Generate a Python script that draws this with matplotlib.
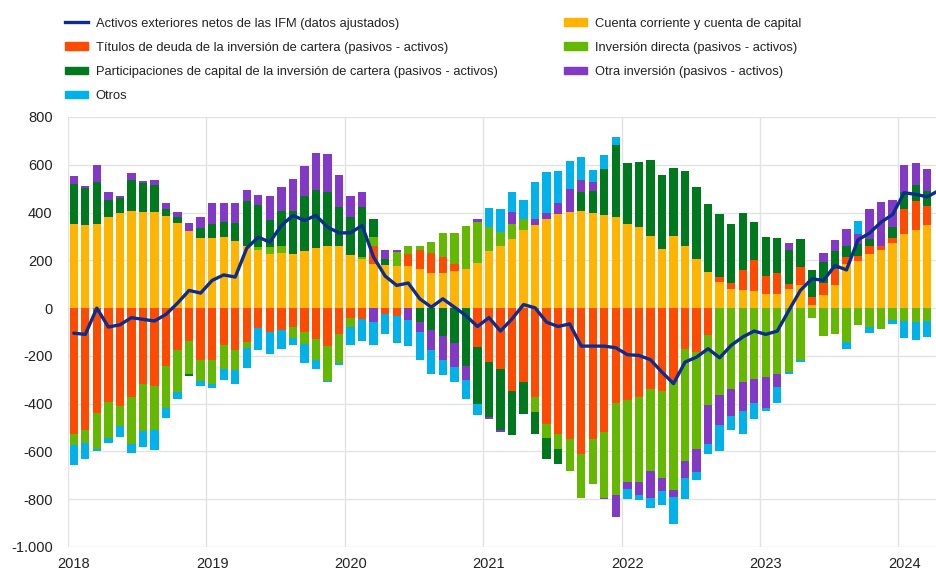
import numpy as np
import matplotlib
matplotlib.use('Agg')
import matplotlib.pyplot as plt
from matplotlib.lines import Line2D
from matplotlib.patches import Patch
from matplotlib.ticker import FixedLocator, FuncFormatter

plt.rcParams['font.family'] = ['Liberation Sans', 'DejaVu Sans']

# monthly values, Jan 2018 - Mar 2024 (EUR bn)
cuenta_corriente = [353, 350, 353, 383, 400, 408, 404, 401, 386, 355, 322, 293,
                    293, 297, 283, 258, 244, 227, 230, 227, 238, 252, 258, 258,
                    223, 206, 185, 181, 178, 178, 164, 146, 146, 155, 164, 190,
                    237, 262, 290, 325, 346, 374, 392, 401, 408, 397, 388, 381,
                    353, 339, 300, 248, 300, 258, 206, 151, 109, 81, 77, 70,
                    57, 57, 78, 95, 15, 54, 98, 183, 199, 227, 244, 272,
                    311, 328, 350]
titulos_deuda = [-525, -509, -439, -393, -411, -372, -316, -328, -244, -177, -138, -219,
                 -219, -156, -174, -142, -84, -98, -93, -79, -100, -131, -160, -110,
                 -40, -45, 73, -24, -31, 49, 80, 84, 67, 28, 0, -163,
                 -226, -254, -349, -310, -372, -484, -526, -546, -609, -546, -519, -397,
                 -383, -372, -337, -347, -309, -170, -184, -114, 21, 24, 81, 132,
                 77, 89, 24, 77, 31, 50, 67, 31, 21, 31, 18, 22,
                 105, 120, 79]
inversion_directa = [-49, -56, -149, -151, -84, -195, -200, -181, -174, -174, -137, -86,
                     -100, -98, -87, -24, 11, 28, 32, -46, -49, -88, -145, -119,
                     -37, 8, 39, 0, 56, 35, 18, 46, 102, 132, 179, 170,
                     102, 56, 63, 49, -63, -58, -62, -136, -184, -191, -274, -386,
                     -345, -356, -346, -363, -451, -470, -404, -293, -365, -337, -309, -296,
                     -289, -275, -268, -216, -40, -118, -110, -142, -72, -77, -86, -49,
                     -54, -59, -54]
participaciones = [167, 153, 174, 70, 61, 129, 119, 116, 28, 28, -9, 42,
                   60, 63, 74, 189, 177, 114, 146, 181, 233, 244, 230, 167,
                   160, 208, 78, 25, 0, 0, -59, -93, -117, -145, -244, -237,
                   -230, -258, -184, -132, -93, -88, -66, 0, 79, 95, 195, 300,
                   253, 272, 320, 311, 287, 318, 300, 285, 262, 248, 241, 160,
                   164, 148, 142, 118, 112, 88, 74, 45, 49, 32, 0, 45,
                   70, 66, 60]
otra_inversion = [31, 10, 73, 32, 7, 28, 8, 20, 25, 18, 35, 48,
                  86, 79, 82, 49, 42, 99, 101, 133, 123, 152, 157, 133,
                  88, 63, -59, 38, 10, -49, -41, -81, -102, -102, -56, 14,
                  -7, -7, 49, 0, 28, 24, 47, 98, 49, 38, -8, -91,
                  -28, -55, -110, -55, -30, -70, -98, -160, -126, -116, -122, -101,
                  -128, -55, 28, 0, 0, 40, 45, 71, 42, 123, 184, 114,
                  114, 94, 92]
otros = [-84, -65, -10, -21, -45, -39, -65, -83, -42, -30, 0, -20,
         -14, -48, -55, -85, -90, -93, -77, -28, -80, -37, -5, -11,
         -76, -94, -97, -86, -115, -111, -119, -101, -63, -62, -81, -46,
         79, 95, 83, 79, 156, 170, 137, 118, 98, 50, 58, 35,
         -41, -21, -42, -60, -112, -87, -32, -42, -107, -56, -97, -66,
         -15, -66, -7, -10, 0, 0, 0, -28, 52, -28, 0, -19,
         -70, -73, -67]
# the line runs one month further (Apr 2024), cut by the right edge
activos_netos = [-105, -110, 0, -79, -70, -40, -47, -54, -26, 21, 74, 63,
                 116, 139, 130, 251, 297, 276, 346, 388, 367, 388, 339, 315,
                 315, 346, 213, 134, 95, 105, 39, 4, 39, 4, -31, -77,
                 -40, -96, -45, 15, 1, -59, -77, -66, -159, -159, -159, -166,
                 -195, -198, -216, -268, -316, -226, -205, -170, -208, -156, -121, -96,
                 -110, -96, -10, 74, 123, 116, 178, 160, 286, 314, 360, 392,
                 483, 476, 466, 492]

years = [2018, 2019, 2020, 2021, 2022, 2023, 2024]
y_ticks = [800, 600, 400, 200, 0, -200, -400, -600, -800, -1000]

lbl_line = 'Activos exteriores netos de las IFM (datos ajustados)'
lbl_ca = 'Cuenta corriente y cuenta de capital'
lbl_debt = 'Títulos de deuda de la inversión de cartera (pasivos - activos)'
lbl_fdi = 'Inversión directa (pasivos - activos)'
lbl_eq = 'Participaciones de capital de la inversión de cartera (pasivos - activos)'
lbl_oi = 'Otra inversión (pasivos - activos)'
lbl_ot = 'Otros'

c_line = '#0b2d8f'
c_ca = '#ffb400'
c_debt = '#ff4b00'
c_fdi = '#65b800'
c_eq = '#00781e'
c_oi = '#8139c6'
c_ot = '#00b1ea'

fig = plt.figure(figsize=(9.36, 5.70), dpi=100)
ax = fig.add_axes([68 / 936, 23 / 570, 868 / 936, 430 / 570])

n = len(cuenta_corriente)
x = 2018 + (np.arange(n) + 0.5) / 12
x_line = 2018 + (np.arange(len(activos_netos)) + 0.5) / 12

series = [(cuenta_corriente, c_ca), (titulos_deuda, c_debt), (inversion_directa, c_fdi),
          (participaciones, c_eq), (otra_inversion, c_oi), (otros, c_ot)]
pos = np.zeros(n)
neg = np.zeros(n)
for vals, col in series:
    v = np.asarray(vals, dtype=float)
    bottom = np.where(v >= 0, pos, neg)
    ax.bar(x, v, width=0.06, bottom=bottom, color=col, linewidth=0, zorder=2)
    pos += np.clip(v, 0, None)
    neg += np.clip(v, None, 0)

ax.plot(x_line, activos_netos, color=c_line, lw=2.4, zorder=3,
        solid_joinstyle='round', solid_capstyle='round')

ax.set_xlim(2018, 2018 + 868 / 138.4)
ax.set_ylim(-1000, 800)
ax.set_yticks(y_ticks)
ax.yaxis.set_major_formatter(FuncFormatter(lambda v, p: f'{int(v):,}'.replace(',', '.')))
ax.xaxis.set_major_locator(FixedLocator([yr + 0.5 / 12 for yr in years]))
ax.set_xticklabels([str(yr) for yr in years])
ax.xaxis.set_minor_locator(FixedLocator(years))

ax.grid(axis='y', which='major', color='#e3e3e3', lw=1)
ax.grid(axis='x', which='minor', color='#e3e3e3', lw=1)
ax.set_axisbelow(True)
for s in ax.spines.values():
    s.set_visible(False)
ax.tick_params(axis='both', which='both', length=0, labelsize=10.5, colors='#222222')
ax.tick_params(axis='y', pad=11)
ax.tick_params(axis='x', pad=7)

handles = [Line2D([], [], color=c_line, lw=2.4),
           Patch(color=c_debt), Patch(color=c_eq), Patch(color=c_ot),
           Patch(color=c_ca), Patch(color=c_fdi), Patch(color=c_oi)]
labels = [lbl_line, lbl_debt, lbl_eq, lbl_ot, lbl_ca, lbl_fdi, lbl_oi]
leg = fig.legend(handles, labels, loc='upper left', bbox_to_anchor=(65 / 936, 1 - 17.5 / 570),
                 ncol=2, frameon=False, fontsize=9.3, handlelength=1.75, handleheight=0.5,
                 handletextpad=0.62, columnspacing=5.15, labelspacing=0.94,
                 borderpad=0, borderaxespad=0)
for t in leg.get_texts():
    t.set_color('#222222')

fig.savefig('out.png', dpi=100)
